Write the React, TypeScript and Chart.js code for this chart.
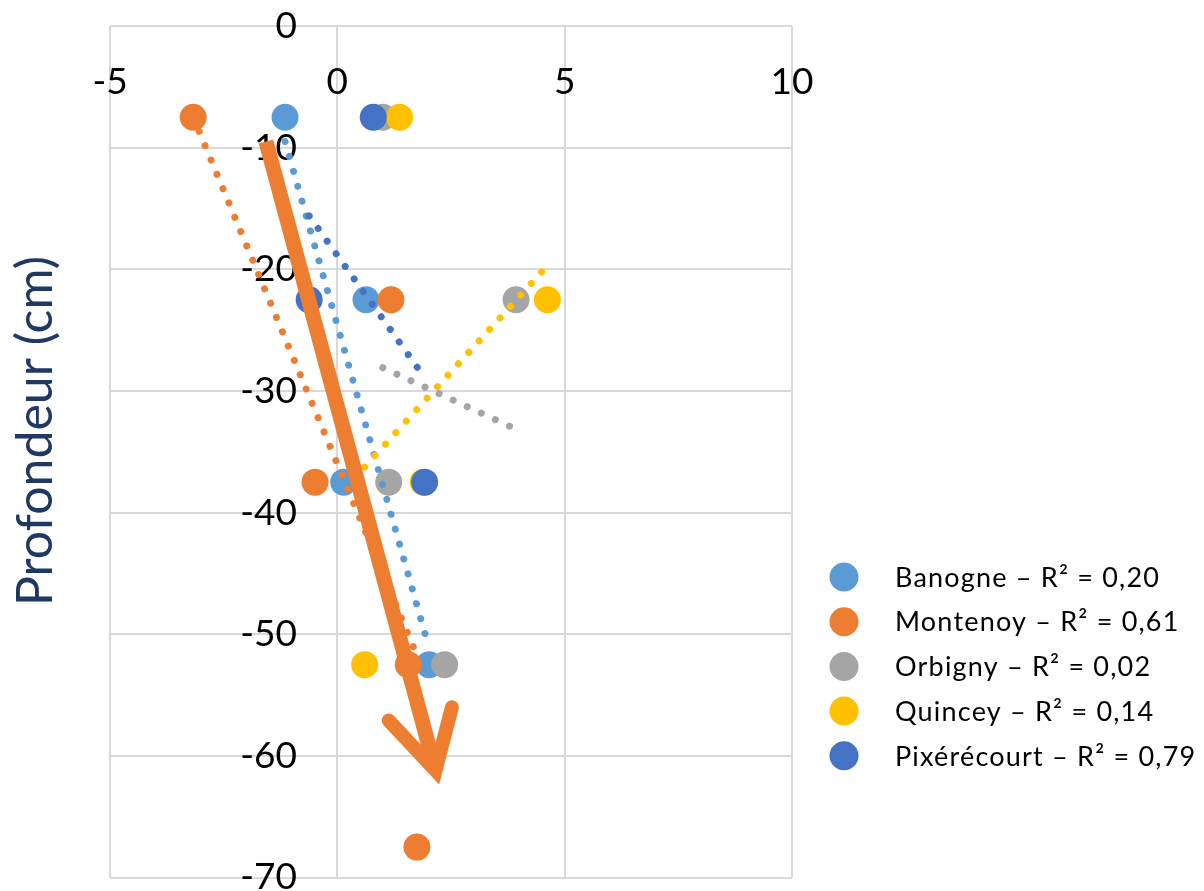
import React, { useEffect, useRef } from "react";
import { Chart, registerables } from "chart.js";

Chart.register(...registerables);

// ---- data ----
const depthLevels = [-7.5, -22.5, -37.5, -52.5, -67.5];

const siteNames = ["Banogne", "Montenoy", "Orbigny", "Quincey", "Pixérécourt"];
const legendLabels = [
  "Banogne – R² = 0,20",
  "Montenoy – R² = 0,61",
  "Orbigny – R² = 0,02",
  "Quincey – R² = 0,14",
  "Pixérécourt – R² = 0,79",
];
const siteColors = ["#5B9BD5", "#ED7D31", "#A5A5A5", "#FFC000", "#4472C4"];

const banogneX = [-1.15, 0.63, 0.14, 2.02];
const montenoyX = [-3.17, 1.18, -0.49, 1.56, 1.75];
const orbignyX = [1.0, 3.93, 1.13, 2.36];
const quinceyX = [1.37, 4.62, 1.89, 0.6];
const pixerecourtX = [0.79, -0.62, 1.92];

const seriesX = [banogneX, montenoyX, orbignyX, quinceyX, pixerecourtX];

// x ticks / y ticks
const xMin = -5;
const xMax = 10;
const xStep = 5;
const yMin = -70;
const yMax = 0;
const yStep = 10;

// annotation arrow (in data coordinates)
const arrowShaft = [
  { x: -1.57, y: -9.5 },
  { x: 2.16, y: -61.2 },
];
const arrowHead = [
  { x: 1.13, y: -57.1 },
  { x: 2.16, y: -61.2 },
  { x: 2.52, y: -56.0 },
];

const axisTitle = "Profondeur (cm)";

// ---- helpers ----
type Pt = { x: number; y: number };

function toPoints(xs: number[]): Pt[] {
  return xs.map((x, i) => ({ x, y: depthLevels[i] }));
}

// Linear least-squares trendline (y on x), spanning the data's x range
function trendline(pts: Pt[]): Pt[] {
  const n = pts.length;
  const mx = pts.reduce((s, p) => s + p.x, 0) / n;
  const my = pts.reduce((s, p) => s + p.y, 0) / n;
  let sxy = 0;
  let sxx = 0;
  pts.forEach((p) => {
    sxy += (p.x - mx) * (p.y - my);
    sxx += (p.x - mx) * (p.x - mx);
  });
  const slope = sxy / sxx;
  const b = my - slope * mx;
  const xs = pts.map((p) => p.x);
  const x0 = Math.min(...xs);
  const x1 = Math.max(...xs);
  return [
    { x: x0, y: slope * x0 + b },
    { x: x1, y: slope * x1 + b },
  ];
}

const FONT = 'Lato, "Open Sans", sans-serif';

const legendPlugin = {
  id: "customLegend",
  afterDraw(chart: any) {
    const ctx = chart.ctx;
    ctx.save();
    const startY = 577;
    const gap = 44.7;
    legendLabels.forEach((label, i) => {
      const y = startY + i * gap;
      ctx.beginPath();
      ctx.fillStyle = siteColors[i];
      ctx.arc(844, y, 14.5, 0, Math.PI * 2);
      ctx.fill();
      ctx.fillStyle = "#000000";
      ctx.font = `27px ${FONT}`;
      try {
        (ctx as any).letterSpacing = "1.2px";
      } catch (e) {}
      ctx.textAlign = "left";
      ctx.textBaseline = "middle";
      ctx.fillText(label, 895, y + 1);
    });
    try {
      (ctx as any).letterSpacing = "0px";
    } catch (e) {}
    // axis title
    ctx.translate(36, 431);
    ctx.rotate(-Math.PI / 2);
    ctx.fillStyle = "#1F3864";
    ctx.font = `50px ${FONT}`;
    ctx.textAlign = "center";
    ctx.textBaseline = "middle";
    ctx.fillText(axisTitle, 0, 0);
    ctx.restore();
  },
};

export default function App() {
  const canvasRef = useRef<HTMLCanvasElement | null>(null);

  useEffect(() => {
    if (!canvasRef.current) return;

    const markerDatasets = seriesX.map((xs, i) => ({
      label: siteNames[i],
      data: toPoints(xs),
      backgroundColor: siteColors[i],
      borderColor: siteColors[i],
      borderWidth: 0,
      pointRadius: 13.5,
      pointHoverRadius: 13.5,
      showLine: false,
      order: 20 - i,
    }));

    const trendDatasets = seriesX.map((xs, i) => ({
      label: siteNames[i] + " trend",
      data: trendline(toPoints(xs)),
      borderColor: siteColors[i],
      backgroundColor: siteColors[i],
      borderWidth: 7,
      borderDash: [0.001, 15.5],
      borderCapStyle: "round",
      pointRadius: 0,
      showLine: true,
      order: 10 - i,
    }));

    const arrowDatasets = [
      {
        label: "arrow",
        data: arrowShaft,
        borderColor: "#ED7D31",
        borderWidth: 15,
        borderCapStyle: "butt",
        pointRadius: 0,
        showLine: true,
        order: 1,
      },
      {
        label: "arrowhead",
        data: arrowHead,
        borderColor: "#ED7D31",
        borderWidth: 14,
        borderCapStyle: "round",
        borderJoinStyle: "miter",
        pointRadius: 0,
        showLine: true,
        order: 0,
      },
    ];

    const chart = new Chart(canvasRef.current, {
      type: "scatter",
      data: {
        datasets: [...markerDatasets, ...trendDatasets, ...arrowDatasets] as any,
      },
      plugins: [legendPlugin],
      options: {
        responsive: false,
        animation: false,
        layout: {
          padding: { left: 110, right: 412, top: 26, bottom: 12 },
        },
        plugins: {
          legend: { display: false },
          tooltip: { enabled: false },
        },
        scales: {
          x: {
            type: "linear",
            min: xMin,
            max: xMax,
            position: { y: 0 } as any,
            afterFit: (s: any) => {
              s.height = 0;
              s.paddingLeft = 0;
              s.paddingRight = 0;
            },
            ticks: {
              stepSize: xStep,
              color: "#000000",
              font: { family: FONT, size: 37 },
              padding: 34,
              maxRotation: 0,
            },
            grid: { color: "#D9D9D9", lineWidth: 2, drawTicks: false },
            border: { display: false },
          },
          y: {
            type: "linear",
            min: yMin,
            max: yMax,
            position: { x: -0.89 } as any,
            afterFit: (s: any) => {
              s.width = 0;
              s.paddingTop = 0;
              s.paddingBottom = 0;
            },
            ticks: {
              stepSize: yStep,
              color: "#000000",
              font: { family: FONT, size: 37 },
              padding: 0,
            },
            grid: { color: "#D9D9D9", lineWidth: 2, drawTicks: false },
            border: { display: false },
          },
        },
      },
    });

    return () => chart.destroy();
  }, []);

  return (
    <div style={{ position: "fixed", left: 0, top: 0, width: 1204, height: 891, background: "#fff" }}>
      <canvas ref={canvasRef} width={1204} height={891} style={{ display: "block" }} />
    </div>
  );
}
